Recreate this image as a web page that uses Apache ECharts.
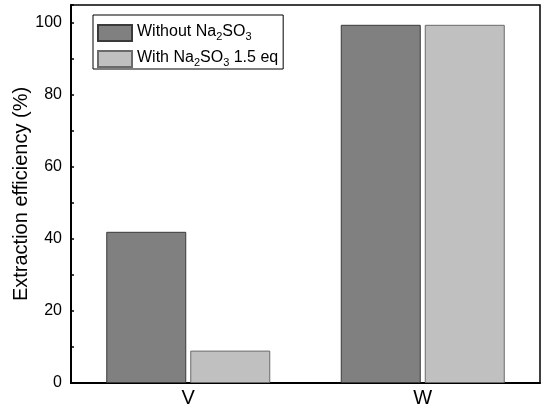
<!DOCTYPE html>
<html><head><meta charset="utf-8">
<script src="https://cdn.jsdelivr.net/npm/echarts@6/dist/echarts.min.js"></script>
<style>html,body{margin:0;padding:0;background:#fff}#c{width:542px;height:409px}</style>
</head><body><div id="c"></div>
<script>
var categories = ['V', 'W'];
var seriesNames = ['Without Na2SO3', 'With Na2SO3 1.5 eq'];
var withoutSulfite = [42, 99.5];
var withSulfite = [9, 99.5];
var yTicks = [0, 20, 40, 60, 80, 100];

var FONT = 'Liberation Sans, Arial, sans-serif';
var chart = echarts.init(document.getElementById('c'));
function legendFmt(name) {
  var parts = name.split('Na2SO3');
  return '{n|' + parts[0] + 'Na}{sub|2}{n|SO}{sub|3}' + (parts[1] ? '{n|' + parts[1] + '}' : '');
}
chart.setOption({
  animation: false,
  backgroundColor: '#fff',
  grid: { left: 71, right: 2, top: 5, bottom: 26, show: true, borderColor: '#000', borderWidth: 1.5,
    containLabel: false, outerBoundsMode: 'none' },
  legend: {
    orient: 'vertical', left: 93, top: 15,
    padding: [4, 5, 1, 4], itemGap: 3, itemWidth: 34, itemHeight: 16,
    icon: 'rect',
    borderColor: '#000', borderWidth: 1,
    formatter: legendFmt,
    textStyle: {
      fontFamily: FONT, fontSize: 16, color: '#000',
      rich: {
        n: { fontFamily: FONT, fontSize: 16, lineHeight: 18, verticalAlign: 'top', color: '#000' },
        sub: { fontFamily: FONT, fontSize: 11, lineHeight: 10, verticalAlign: 'bottom', padding: [12, 0, 0, 0], color: '#000' }
      }
    },
    data: seriesNames
  },
  xAxis: {
    type: 'category', data: categories,
    axisLine: { lineStyle: { color: '#000', width: 2 } },
    axisTick: { inside: true, length: 3, interval: 0, lineStyle: { color: '#000', width: 1 } },
    axisLabel: { fontFamily: FONT, fontSize: 20, color: '#000', margin: 5 },
    splitLine: { show: false }
  },
  yAxis: [{
    type: 'value', min: 0, max: 105, interval: 20,
    name: 'Extraction efficiency (%)', nameLocation: 'middle', nameGap: 40, nameMoveOverlap: false,
    nameTextStyle: { fontFamily: FONT, fontSize: 20, color: '#000' },
    axisLine: { show: true, lineStyle: { color: '#000', width: 2 } },
    axisTick: { inside: true, length: 6, lineStyle: { color: '#000', width: 1.5 } },
    axisLabel: { fontFamily: FONT, fontSize: 16, color: '#000', margin: 9, showMaxLabel: false,
      formatter: function (v) { return yTicks.indexOf(v) >= 0 ? String(v) : ''; } },
    splitLine: { show: false }
  }, {
    type: 'value', min: 0, max: 105, interval: 10, position: 'left',
    axisLine: { show: false },
    axisTick: { show: true, inside: true, length: 3, lineStyle: { color: '#000', width: 1.5 } },
    axisLabel: { show: false },
    splitLine: { show: false }
  }],
  series: [{
    name: seriesNames[0], type: 'bar', data: withoutSulfite, barWidth: 80, barGap: '5%',
    itemStyle: { color: '#808080', borderColor: '#3a3a3a', borderWidth: 1 }
  }, {
    name: seriesNames[1], type: 'bar', data: withSulfite, barWidth: 80, barGap: '5%',
    itemStyle: { color: '#c0c0c0', borderColor: '#6a6a6a', borderWidth: 1 }
  }]
});
</script>
</body></html>
